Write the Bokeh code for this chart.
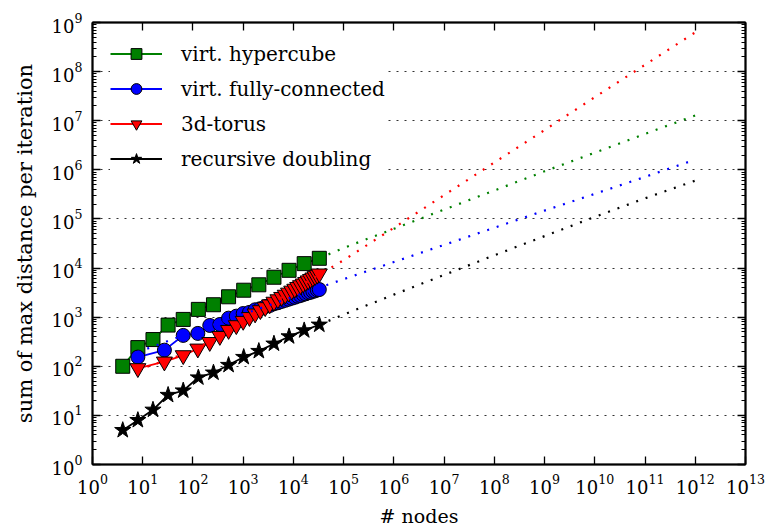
from bokeh.plotting import figure
from bokeh.models import (LogAxis, FixedTicker, Legend, LegendItem, Range1d,
                          LogTickFormatter, CustomJSTickFormatter)
from bokeh.embed import file_html
from bokeh.resources import INLINE

# ---- data ----
nodes_pow2 = [4, 8, 16, 32, 64, 128, 256, 512, 1024, 2048, 4096, 8192, 16384, 32768]
nodes_cube = [8, 27, 64, 125, 216, 343, 512, 729, 1000, 1331, 1728, 2197, 2744, 3375,
              4096, 4913, 5832, 6859, 8000, 9261, 10648, 12167, 13824, 15625, 17576,
              19683, 21952, 24389, 27000, 29791, 32768]

hypercube = [100, 240, 350, 690, 900, 1440, 1790, 2600, 3540, 4560, 6500, 9000, 12300, 15800]
fully_connected = [154, 213, 425, 467, 678, 711, 955, 1048, 1185, 1250, 1413, 1490, 1640,
                   1725, 1867, 1965, 2092, 2200, 2317, 2435, 2540, 2670, 2763, 2900, 2985,
                   3135, 3207, 3365, 3428, 3595, 3650]
torus3d = [91, 124, 167, 228, 310, 411, 545, 682, 835, 1000, 1180, 1380, 1590, 1810, 2050,
           2300, 2565, 2845, 3140, 3445, 3765, 4100, 4445, 4805, 5180, 5565, 5965, 6380,
           6805, 7245, 7700]
rec_doubling = [5, 8, 13, 26, 32, 59, 74, 106, 154, 204, 288, 405, 537, 701]

# extrapolated (dotted) curves
fit_hyper_x = [32768, 1e5, 1e6, 1e7, 1e8, 1e9, 1e10, 1e11, 1e12]
fit_hyper_y = [15800, 25700, 63000, 155000, 380000, 933000, 2240000, 5400000, 12800000]
fit_fully_x = [8, 10, 100, 1e3, 1e4, 1e5, 1e6, 1e7, 1e8, 1e9, 1e10, 1e11, 1e12]
fit_fully_y = [195, 212, 501, 1146, 2618, 5943, 13270, 29650, 66200, 148000, 324000, 719000, 1610000]
fit_torus_x = [8, 10, 100, 1e3, 1e4, 1e5, 1e6, 1e7, 1e8, 1e9, 1e10, 1e11, 1e12]
fit_torus_y = [85, 91, 205, 835, 3570, 14450, 66000, 305000, 1410000, 6460000, 30200000, 138000000, 630000000]
fit_rd_x = [32768, 1e5, 1e6, 1e7, 1e8, 1e9, 1e10, 1e11, 1e12]
fit_rd_y = [701, 1130, 2880, 7240, 18200, 44700, 110000, 263000, 603000]

x_major = [10 ** k for k in range(14)]
y_major = [10 ** k for k in range(10)]
y_minor = [m * 10 ** k for k in range(9) for m in range(2, 10)]

FONT = "DejaVu Serif"
FS_TICK = "18px"
FS_XLAB = "19px"
FS_YLAB = "21px"
FS_LEG = "20px"

p = figure(x_axis_type="log", y_axis_type="log",
           x_range=Range1d(1, 1e13), y_range=Range1d(1, 1e9),
           width=768, height=529,
           min_border_left=92, min_border_top=22, min_border_right=23, min_border_bottom=64,
           output_backend="svg", toolbar_location=None,
           background_fill_color="white", border_fill_color="white")

xt = FixedTicker(ticks=x_major, minor_ticks=[])
yt = FixedTicker(ticks=y_major, minor_ticks=y_minor)

def style_axis(ax, ticker, show_labels):
    ax.ticker = ticker
    ax.axis_line_width = 2
    ax.axis_line_color = "black"
    ax.major_tick_in = 8
    ax.major_tick_out = 0
    ax.minor_tick_in = 4
    ax.minor_tick_out = 0
    ax.major_tick_line_width = 1.3
    ax.minor_tick_line_width = 1.1
    ax.major_tick_line_color = "black"
    ax.minor_tick_line_color = "black"
    ax.major_label_text_font = FONT
    if show_labels:
        ax.formatter = LogTickFormatter()
        ax.major_label_text_font_size = FS_TICK
        ax.major_label_text_color = "black"
    else:
        ax.formatter = CustomJSTickFormatter(code="return ' ';")
        ax.major_label_text_font_size = "2px"
        ax.major_label_text_color = None
        ax.major_label_standoff = 0

style_axis(p.xaxis[0], xt, True)
style_axis(p.yaxis[0], yt, True)
p.xaxis[0].major_label_standoff = 9
p.yaxis[0].major_label_standoff = 10
p.xaxis.axis_label = "# nodes"
p.yaxis.axis_label = "sum of max distance per iteration"
for ax, fs, so in ((p.xaxis[0], FS_XLAB, 8), (p.yaxis[0], FS_YLAB, 12)):
    ax.axis_label_text_font = FONT
    ax.axis_label_text_font_size = fs
    ax.axis_label_text_font_style = "normal"
    ax.axis_label_text_color = "black"
    ax.axis_label_standoff = so

top = LogAxis()
style_axis(top, xt, False)
p.add_layout(top, "above")
right = LogAxis()
style_axis(right, yt, False)
p.add_layout(right, "right")

p.xgrid.grid_line_color = None
p.ygrid.ticker = FixedTicker(ticks=y_major)
p.ygrid.grid_line_color = "black"
p.ygrid.grid_line_alpha = 0.8
p.ygrid.grid_line_width = 1
p.ygrid.grid_line_dash = "2 6"
p.outline_line_color = "black"
p.outline_line_width = 1.5

LW = 1.8
l1 = p.line(nodes_pow2, hypercube, line_color="#008000", line_width=LW)
s1 = p.scatter(nodes_pow2, hypercube, marker="square", size=14, fill_color="#008000",
               line_color="black", line_width=1)
l2 = p.line(nodes_cube, fully_connected, line_color="#0000ff", line_width=LW)
s2 = p.scatter(nodes_cube, fully_connected, marker="circle", size=14, fill_color="#0000ff",
               line_color="black", line_width=1)
l3 = p.line(nodes_cube, torus3d, line_color="#ff0000", line_width=LW)
s3 = p.scatter(nodes_cube, torus3d, marker="inverted_triangle", size=16, fill_color="#ff0000",
               line_color="black", line_width=1)
l4 = p.line(nodes_pow2, rec_doubling, line_color="black", line_width=LW)
s4 = p.scatter(nodes_pow2, rec_doubling, marker="star", size=17, fill_color="black",
               line_color="black", line_width=1)

DASH = "2 8"
DW = 2.2
p.line(fit_hyper_x, fit_hyper_y, line_color="#008000", line_width=DW, line_dash=DASH)
p.line(fit_fully_x, fit_fully_y, line_color="#0000ff", line_width=DW, line_dash=DASH)
p.line(fit_torus_x, fit_torus_y, line_color="#ff0000", line_width=DW, line_dash=DASH)
p.line(fit_rd_x, fit_rd_y, line_color="black", line_width=DW, line_dash=DASH)

legend = Legend(items=[
    LegendItem(label="virt. hypercube", renderers=[l1, s1]),
    LegendItem(label="virt. fully-connected", renderers=[l2, s2]),
    LegendItem(label="3d-torus", renderers=[l3, s3]),
    LegendItem(label="recursive doubling", renderers=[l4, s4]),
], location="top_left")
legend.border_line_color = None
legend.background_fill_color = "white"
legend.background_fill_alpha = 1.0
legend.label_text_font = FONT
legend.label_text_font_size = FS_LEG
legend.label_text_color = "black"
legend.glyph_width = 52
legend.glyph_height = 27
legend.label_height = 27
legend.spacing = 8
legend.label_standoff = 19
legend.padding = 12
legend.margin = 18
p.add_layout(legend)

open("out.html", "w").write(file_html(p, INLINE))
